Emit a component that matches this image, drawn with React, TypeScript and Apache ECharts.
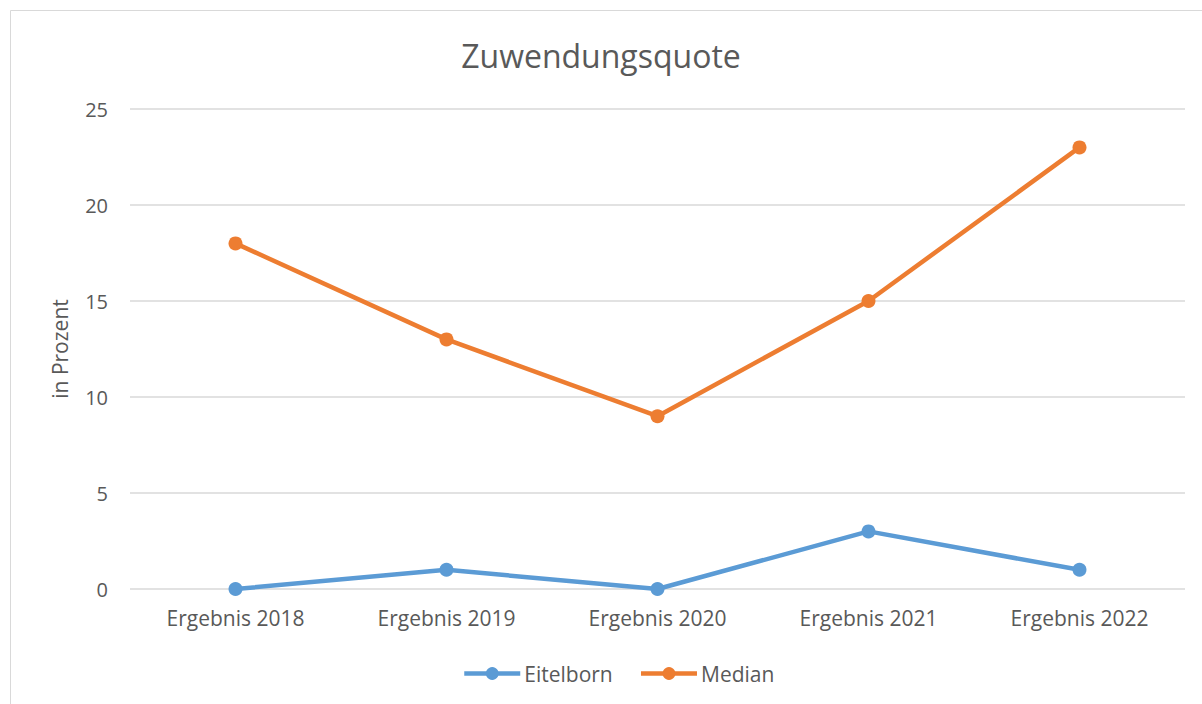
import React, { useEffect, useRef } from "react";
import * as echarts from "echarts";

const categories = ["Ergebnis 2018", "Ergebnis 2019", "Ergebnis 2020", "Ergebnis 2021", "Ergebnis 2022"];
const eitelborn = [0, 1, 0, 3, 1];
const median = [18, 13, 9, 15, 23];

export default function App() {
  const ref = useRef<HTMLDivElement>(null);
  useEffect(() => {
    if (!ref.current) return;
    const chart = echarts.init(ref.current, null, { renderer: "svg" });
    const font = "'Open Sans', 'Noto Sans', sans-serif";
    chart.setOption({
      animation: false,
      backgroundColor: "#ffffff",
      textStyle: { fontFamily: font },
      graphic: [
        {
          type: "rect",
          shape: { x: 10.5, y: 10.5, width: 1200, height: 700 },
          style: { fill: "none", stroke: "#d9d9d9", lineWidth: 1 },
          silent: true,
        },
      ],
      title: {
        text: "Zuwendungsquote",
        left: "center",
        top: 34,
        textStyle: { fontFamily: font, fontSize: 32, fontWeight: "normal", color: "#595959" },
      },
      legend: {
        bottom: 15,
        left: 457,
        itemWidth: 56,
        itemHeight: 16,
        itemGap: 26,
        lineStyle: { width: 4.5 },
        textStyle: { fontFamily: font, fontSize: 21, color: "#595959", padding: [0, 0, 0, -1] },
        data: ["Eitelborn", "Median"],
      },
      grid: { left: 130, right: 17, top: 109, bottom: 115, containLabel: false },
      xAxis: {
        type: "category",
        data: categories,
        boundaryGap: true,
        axisLine: { show: false },
        axisTick: { show: false },
        axisLabel: { color: "#595959", fontSize: 21, margin: 18, fontFamily: font },
      },
      yAxis: {
        type: "value",
        min: 0,
        max: 25,
        interval: 5,
        name: "in Prozent",
        nameLocation: "middle",
        nameGap: 60,
        nameTextStyle: { color: "#595959", fontSize: 21, fontFamily: font },
        axisLine: { show: false },
        axisTick: { show: false },
        axisLabel: { color: "#595959", fontSize: 20, margin: 22, fontFamily: font },
        splitLine: { lineStyle: { color: "#d9d9d9", width: 1.5 } },
      },
      series: [
        {
          name: "Eitelborn",
          type: "line",
          data: eitelborn,
          color: "#5B9BD5",
          symbol: "circle",
          symbolSize: 14,
          lineStyle: { width: 4.5, color: "#5B9BD5" },
          itemStyle: { color: "#5B9BD5" },
        },
        {
          name: "Median",
          type: "line",
          data: median,
          color: "#ED7D31",
          symbol: "circle",
          symbolSize: 14,
          lineStyle: { width: 4.5, color: "#ED7D31" },
          itemStyle: { color: "#ED7D31" },
        },
      ],
    });
    return () => chart.dispose();
  }, []);
  return (
    <div
      ref={ref}
      style={{ position: "fixed", left: 0, top: 0, width: 1202, height: 704 }}
    />
  );
}
